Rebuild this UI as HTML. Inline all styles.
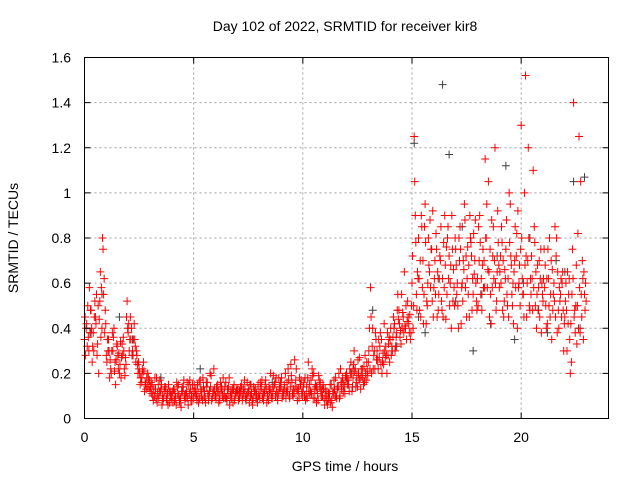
<!DOCTYPE html>
<html><head><meta charset="utf-8">
<style>
body{margin:0;background:#fff;}
svg{display:block;font-family:"Liberation Sans",sans-serif;}
</style></head>
<body>
<svg id="chart" width="640" height="480" viewBox="0 0 640 480">
<text x="345" y="31" font-size="14" text-anchor="middle">Day 102 of 2022, SRMTID for receiver kir8</text>
<text x="345" y="471" font-size="14" text-anchor="middle">GPS time / hours</text>
<text transform="translate(18,238) rotate(-90)" font-size="14" text-anchor="middle">SRMTID / TECUs</text>
<g id="grid"></g>
<g id="marks"></g>
<rect x="84.5" y="57.5" width="524" height="361" fill="none" stroke="#000" stroke-width="1"/>
<g id="ticks"></g>
</svg>
<script>
const xTicks=[0,5,10,15,20];
const yTicks=[0,0.2,0.4,0.6,0.8,1,1.2,1.4,1.6];
const yTickLabels=["0","0.2","0.4","0.6","0.8","1","1.2","1.4","1.6"];
const tRed=[0.0,0.1,0.2,0.3,0.4,0.5,0.6,0.7,0.8,0.9,1.0,1.1,1.2,1.3,1.4,1.5,1.6,1.7,1.8,1.9,2.0,2.1,2.2,2.3,2.4,2.5,2.6,2.7,2.8,2.9,3.0,3.1,3.2,3.3,3.4,3.5,3.6,3.7,3.8,3.9,4.0,4.1,4.2,4.3,4.4,4.5,4.6,4.7,4.8,4.9,5.0,5.1,5.2,5.3,5.4,5.5,5.6,5.7,5.8,5.9,6.0,6.1,6.2,6.3,6.4,6.5,6.6,6.7,6.8,6.9,7.0,7.1,7.2,7.3,7.4,7.5,7.6,7.7,7.8,7.9,8.0,8.1,8.2,8.3,8.4,8.5,8.6,8.7,8.8,8.9,9.0,9.1,9.2,9.3,9.4,9.5,9.6,9.7,9.8,9.9,10.0,10.1,10.2,10.3,10.4,10.5,10.6,10.7,10.8,10.9,11.0,11.1,11.2,11.3,11.4,11.5,11.6,11.7,11.8,11.9,12.0,12.1,12.2,12.3,12.4,12.5,12.6,12.7,12.8,12.9,13.0,13.1,13.2,13.3,13.4,13.5,13.6,13.7,13.8,13.9,14.0,14.1,14.2,14.3,14.4,14.5,14.6,14.7,14.8,14.9,15.0,15.1,15.2,15.3,15.4,15.5,15.6,15.7,15.8,15.9,16.0,16.1,16.2,16.3,16.4,16.5,16.6,16.7,16.8,16.9,17.0,17.1,17.2,17.3,17.4,17.5,17.6,17.7,17.8,17.9,18.0,18.1,18.2,18.3,18.4,18.5,18.6,18.7,18.8,18.9,19.0,19.1,19.2,19.3,19.4,19.5,19.6,19.7,19.8,19.9,20.0,20.1,20.2,20.3,20.4,20.5,20.6,20.7,20.8,20.9,21.0,21.1,21.2,21.3,21.4,21.5,21.6,21.7,21.8,21.9,22.0,22.1,22.2,22.3,22.4,22.5,22.6,22.7,22.8,22.9];
const vRedA=[.35,.42,.30,.48,.38,.45,.33,.52,.40,.62,
.28,.35,.22,.30,.25,.32,.20,.27,.30,.24,
.38,.45,.30,.35,.28,.22,.18,.25,.15,.20,
.12,.15,.10,.18,.09,.13,.08,.14,.11,.07,
.10,.13,.06,.15,.09,.12,.08,.16,.11,.10,
.09,.13,.11,.17,.08,.12,.14,.10,.19,.12,
.10,.15,.08,.13,.11,.09,.14,.12,.07,.10,
.12,.09,.15,.11,.08,.13,.10,.06,.12,.09,
.11,.14,.08,.17,.10,.13,.09,.15,.12,.18,
.14,.10,.20,.12,.09,.16,.11,.22,.13,.15,
.12,.18,.09,.15,.11,.20,.13,.08,.16,.10,
.06,.12,.09,.15,.11,.18,.13,.10,.16,.14,
.20,.15,.25,.18,.22,.14,.27,.19,.23,.17,
.25,.58,.40,.22,.30,.27,.35,.24,.32,.28,
.35,.30,.42,.38,.48,.33,.45,.40,.52,.46,
.60,1.25,.55,.80,.45,.70,.95,.50,.65,.75,
.58,.82,.48,.70,.62,.90,.55,.72,.40,.66,
.75,.50,.85,.60,.95,.45,.68,.78,.55,.88,
.62,.90,.48,.70,.80,1.05,.55,.72,1.20,.65,
.58,.85,.45,.75,.62,.95,.50,.70,.82,.60,
1.30,.55,1.52,.70,.48,.62,.85,.40,.58,.75,
.52,.68,.42,.80,.35,.60,.72,.48,.55,.65,
.45,.30,.62,.25,1.40,.50,.82,.38,.70,.55];
const vRedB=[.28,.50,.38,.25,.45,.55,.20,.36,.75,.48,
.35,.18,.30,.40,.26,.22,.34,.28,.19,.52,
.30,.40,.35,.25,.20,.15,.22,.12,.18,.14,
.16,.08,.13,.11,.17,.06,.12,.09,.15,.10,
.07,.11,.14,.08,.12,.17,.09,.06,.13,.15,
.12,.08,.16,.10,.14,.07,.11,.20,.09,.13,
.14,.07,.12,.18,.09,.13,.06,.11,.15,.13,
.08,.14,.10,.13,.16,.07,.11,.14,.09,.15,
.16,.09,.12,.07,.14,.11,.19,.10,.08,.13,
.09,.15,.12,.17,.24,.10,.14,.08,.18,.11,
.16,.10,.25,.12,.19,.09,.14,.17,.10,.13,
.10,.08,.15,.05,.13,.09,.20,.16,.12,.19,
.15,.22,.12,.30,.16,.20,.13,.18,.28,.21,
.40,.20,.28,.35,.22,.38,.25,.30,.20,.36,
.28,.45,.32,.55,.36,.40,.65,.35,.42,.38,
.40,.90,.65,.48,.85,.55,.42,.80,.58,.92,
.70,.45,.62,.52,.78,.44,.85,.60,.75,.50,
.55,.80,.42,.70,.58,.76,.90,.48,.64,.52,
.85,.55,.75,1.15,.58,.45,.88,.62,.48,.78,
.72,.48,.66,.55,1.00,.68,.42,.58,.92,.50,
.62,1.00,.45,.80,.55,1.10,.50,.68,.45,.60,
.75,.40,.62,.55,.48,.85,.38,.58,.45,.30,
.60,.42,.20,.75,.48,.33,1.25,.55,.35,.60];
const vRedC=[.45,.32,.58,.40,.30,.42,.50,.65,.80,.38,
.25,.30,.20,.36,.15,.28,.24,.33,.22,.45,
.42,.35,.28,.32,.24,.20,.16,.21,.13,.18,
.14,.10,.18,.07,.12,.15,.09,.13,.06,.12,
.12,.08,.16,.10,.05,.14,.11,.09,.17,.08,
.15,.10,.07,.13,.18,.09,.16,.12,.08,.22,
.09,.12,.16,.10,.14,.08,.18,.09,.13,.11,
.13,.11,.08,.17,.10,.12,.15,.09,.13,.07,
.09,.17,.11,.13,.08,.20,.12,.16,.10,.14,
.18,.12,.09,.22,.14,.11,.26,.13,.09,.17,
.14,.08,.18,.11,.22,.13,.07,.19,.12,.15,
.13,.06,.11,.08,.17,.10,.14,.22,.18,.11,
.18,.12,.20,.24,.14,.26,.18,.22,.16,.25,
.30,.45,.22,.38,.26,.32,.20,.42,.28,.33,
.40,.36,.30,.48,.42,.55,.38,.50,.45,.35,
.72,1.05,.48,.62,.90,.42,.78,.60,.88,.52,
.62,.75,.55,.85,.45,.68,.80,.50,.90,.58,
.68,.40,.75,.52,.88,.62,.45,.72,.82,.60,
.50,.78,.68,.58,.95,.65,.42,.85,.60,.92,
.65,.78,.52,.88,.45,.72,.60,.85,.40,.68,
.80,.45,.72,1.20,.62,.48,.78,.55,.70,.38,
.62,.50,.75,.45,.66,.52,.80,.40,.62,.48,
.52,.65,.35,.55,.45,.68,.40,1.05,.62,.48];
const vRedD=[.40,.36,.48,.32,.52,.28,.44,.58,.55,.42,
.30,.26,.38,.21,.33,.29,.18,.36,.27,.40,
.35,.28,.42,.30,.25,.18,.20,.16,.14,.17,
.11,.13,.09,.15,.12,.10,.14,.08,.12,.09,
.13,.09,.11,.07,.14,.10,.12,.15,.08,.12,
.11,.15,.09,.12,.10,.16,.08,.14,.11,.10,
.12,.10,.14,.09,.16,.11,.10,.13,.08,.12,
.10,.12,.13,.09,.11,.15,.08,.12,.11,.10,
.13,.11,.15,.10,.12,.09,.14,.18,.11,.16,
.11,.13,.16,.10,.19,.13,.17,.12,.15,.10,
.10,.14,.12,.17,.09,.15,.11,.14,.13,.09,
.08,.11,.07,.12,.10,.14,.09,.13,.15,.17,
.17,.20,.14,.21,.19,.17,.22,.15,.20,.19,
.22,.32,.30,.26,.35,.24,.29,.27,.38,.25,
.32,.40,.36,.44,.39,.47,.41,.43,.38,.50,
.50,.78,.62,.70,.58,.85,.52,.68,.75,.45,
.55,.65,.72,.48,.58,.76,.62,.68,.52,.80,
.60,.70,.58,.66,.72,.55,.80,.62,.70,.48,
.70,.62,.58,.80,.66,.75,.58,.70,.52,.68,
.60,.70,.62,.50,.78,.55,.65,.72,.58,.75,
.55,.68,.60,.50,.72,.58,.65,.48,.62,.55,
.58,.62,.50,.70,.55,.45,.65,.52,.60,.42,
.48,.55,.42,.62,.38,.50,.58,.45,.65,.52];
const tGray=[0.3,0.8,1.6,2.2,3.5,5.3,7.1,8.6,9.4,10.6,12.3,13.2,14.3,15.1,15.3,15.6,16.2,16.4,16.7,17.0,17.3,17.8,18.2,18.6,18.9,19.3,19.7,20.1,20.4,20.8,21.2,21.6,22.0,22.4,22.7,22.9];
const vGray=[0.38,0.55,0.45,0.35,0.18,0.22,0.12,0.16,0.10,0.14,0.22,0.48,0.32,1.22,0.45,0.38,0.62,1.48,1.17,0.52,0.85,0.30,0.55,0.42,0.72,1.12,0.35,0.60,0.80,0.48,0.38,0.70,0.65,1.05,0.40,1.07];
const X=t=>84.5+t*(524/24);
const Y=v=>418.5-v*(361/1.6);
const NS="http://www.w3.org/2000/svg";
const grid=document.getElementById('grid'),ticks=document.getElementById('ticks'),marks=document.getElementById('marks');
function mk(tag,attrs,parent){const e=document.createElementNS(NS,tag);for(const k in attrs)e.setAttribute(k,attrs[k]);parent.appendChild(e);return e;}
xTicks.forEach(t=>{
 const x=X(t);
 if(t>0){const g=mk('line',{x1:x,x2:x,y1:57.5,y2:418.5,stroke:'#a0a0a0','stroke-dasharray':'2,3'},grid);
 
 }
 const tk=mk('line',{x1:x,x2:x,y1:418.5,y2:412.5,stroke:'#000'},ticks);
 
 
 const tk2=mk('line',{x1:x,x2:x,y1:57.5,y2:63.5,stroke:'#000'},ticks);
 
 
 const lb=mk('text',{x:x,y:442,'font-size':14,'text-anchor':'middle'},ticks);lb.textContent=String(t);
 
 
});
yTicks.forEach((v,i)=>{
 const y=Y(v);
 if(v>0&&v<1.6){const g=mk('line',{x1:84.5,x2:608.5,y1:y,y2:y,stroke:'#a0a0a0','stroke-dasharray':'2,3'},grid);
 
 }
 const tk=mk('line',{x1:84.5,x2:90.5,y1:y,y2:y,stroke:'#000'},ticks);
 
 
 const tk2=mk('line',{x1:602.5,x2:608.5,y1:y,y2:y,stroke:'#000'},ticks);
 
 
 const lb=mk('text',{x:71,y:y+5,'font-size':14,'text-anchor':'end'},ticks);lb.textContent=yTickLabels[i];
 
 
});
function plus(t,v,color,name){
 const x=X(t),y=Y(v);
 const p=mk('path',{d:`M${x-4},${y}H${x+4}M${x},${y-4}V${y+4}`,stroke:color,'stroke-width':1,fill:'none'},marks);
 
 
}
tGray.forEach((t,i)=>plus(t,vGray[i],'#404040','gray-point'));
tRed.forEach((t,i)=>plus(t,vRedA[i],'#ff0000','red-point'));
tRed.forEach((t,i)=>plus(t+0.05,vRedB[i],'#ff0000','red-point'));
tRed.forEach((t,i)=>plus(t+0.025,vRedC[i],'#ff0000','red-point'));
tRed.forEach((t,i)=>plus(t+0.075,vRedD[i],'#ff0000','red-point'));
</script>
</body></html>
